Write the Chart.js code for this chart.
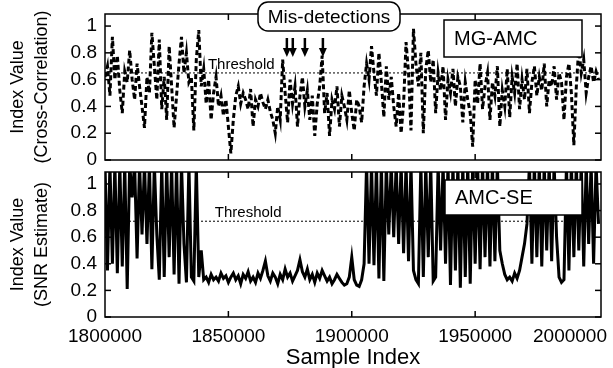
<!DOCTYPE html>
<html>
<head>
<meta charset="utf-8">
<script src="https://cdn.jsdelivr.net/npm/chart.js@4.4.0/dist/chart.umd.min.js"></script>
<style>
  html, body { margin: 0; padding: 0; background: #fff; }
  #wrap { position: relative; width: 613px; height: 368px; }
  .panel { position: absolute; left: 0; }
  #topChart { top: 0; }
  #bottomChart { top: 165px; }
</style>
</head>
<body>
<div id="wrap">
  <canvas id="topChart" class="panel" width="613" height="165"></canvas>
  <canvas id="bottomChart" class="panel" width="613" height="203"></canvas>
</div>
<script>
const FONT = '"Liberation Sans", Arial, Helvetica, sans-serif';

// sample axis
const sampleStart = 1800000;
const sampleStep = 1000;
const xMin = 1800000;
const xMax = 2001000;
const xTicks = [1800000, 1850000, 1900000, 1950000, 2000000];
const yTicks = [0, 0.2, 0.4, 0.6, 0.8, 1];

// MG-AMC index value (cross-correlation), one value per 1000 samples
const mgAmc = [
  0.62, 0.70, 0.48, 0.92, 0.60, 0.78, 0.52, 0.35, 0.66, 0.58,
  0.82, 0.60, 0.45, 0.72, 0.55, 0.40, 0.24, 0.62, 0.50, 0.95,
  0.70, 0.45, 0.90, 0.38, 0.62, 0.30, 0.85, 0.55, 0.24, 0.48,
  0.72, 0.92, 0.65, 0.80, 0.58, 0.62, 0.22, 0.75, 0.97, 0.55,
  0.68, 0.42, 0.60, 0.30, 0.50, 0.62, 0.40, 0.48, 0.33, 0.45,
  0.25, 0.05, 0.30, 0.48, 0.55, 0.42, 0.50, 0.45, 0.38, 0.53,
  0.25, 0.45, 0.40, 0.50, 0.43, 0.38, 0.45, 0.36, 0.30, 0.20,
  0.40, 0.30, 0.75, 0.50, 0.28, 0.60, 0.42, 0.55, 0.25, 0.48,
  0.62, 0.40, 0.52, 0.30, 0.48, 0.18, 0.42, 0.55, 0.78, 0.35,
  0.50, 0.18, 0.45, 0.38, 0.55, 0.25, 0.48, 0.40, 0.30, 0.52,
  0.35, 0.22, 0.45, 0.40, 0.28, 0.55, 0.72, 0.60, 0.85, 0.65,
  0.48, 0.80, 0.58, 0.32, 0.70, 0.45, 0.62, 0.40, 0.25, 0.50,
  0.20, 0.42, 0.88, 0.65, 0.22, 0.98, 0.72, 0.55, 0.80, 0.20,
  0.68, 0.82, 0.58, 0.75, 0.35, 0.65, 0.52, 0.70, 0.30, 0.60,
  0.50, 0.68, 0.40, 0.62, 0.55, 0.28, 0.58, 0.45, 0.35, 0.10,
  0.60, 0.42, 0.72, 0.38, 0.55, 0.65, 0.30, 0.58, 0.48, 0.70,
  0.25, 0.52, 0.40, 0.68, 0.32, 0.62, 0.50, 0.72, 0.38, 0.60,
  0.45, 0.68, 0.35, 0.58, 0.70, 0.48, 0.62, 0.52, 0.72, 0.40,
  0.60, 0.55, 0.70, 0.45, 0.65, 0.58, 0.30, 0.62, 0.72, 0.50,
  0.11, 0.55, 0.84, 0.65, 0.75, 0.50, 0.62, 0.70, 0.58, 0.66,
  0.60
];

// AMC-SE index value (SNR estimate), one value per 1000 samples (values above the frame are clipped)
const amcSe = [
  1.15, 0.35, 1.15, 0.40, 1.15, 0.33, 1.15, 0.38, 1.15, 0.21,
  1.15, 0.90, 1.15, 0.44, 1.15, 0.62, 1.15, 0.55, 1.15, 0.36,
  1.15, 0.62, 0.28, 1.15, 0.30, 1.15, 0.45, 1.15, 0.32, 1.15,
  0.25, 1.15, 0.55, 0.26, 1.15, 0.30, 0.27, 1.15, 0.30, 0.50,
  0.28, 0.30, 0.26, 0.32, 0.28, 0.30, 0.27, 0.33, 0.29, 0.31,
  0.26, 0.30, 0.33, 0.28, 0.31, 0.25, 0.32, 0.29, 0.34, 0.27,
  0.30, 0.26, 0.33, 0.29, 0.35, 0.42, 0.31, 0.27, 0.33, 0.30,
  0.25, 0.32, 0.28, 0.36, 0.30, 0.33, 0.27, 0.31, 0.35, 0.43,
  0.34, 0.30, 0.36, 0.28, 0.32, 0.26, 0.33, 0.29, 0.35, 0.31,
  0.27, 0.30, 0.25, 0.28, 0.32, 0.29, 0.26, 0.24, 0.25, 0.30,
  0.45, 0.28, 0.24, 0.23, 0.28, 0.40, 1.15, 0.40, 1.15, 0.39,
  1.15, 0.29, 1.15, 0.27, 1.15, 0.62, 1.15, 0.60, 1.15, 0.55,
  1.15, 0.48, 1.15, 0.42, 1.15, 0.35, 0.28, 0.25, 1.15, 0.30,
  1.15, 0.45, 1.15, 0.27, 0.30, 1.15, 0.50, 1.15, 0.40, 1.15,
  0.24, 1.15, 0.35, 1.15, 0.22, 1.15, 0.30, 1.15, 0.25, 1.15,
  0.40, 1.15, 0.36, 1.15, 0.45, 1.15, 0.38, 1.15, 0.42, 1.15,
  0.50, 0.40, 0.32, 0.28, 0.30, 0.27, 0.33, 0.29, 0.35, 0.45,
  0.55, 0.70, 1.15, 0.40, 1.15, 0.45, 1.15, 0.38, 1.15, 0.50,
  1.15, 0.42, 1.15, 0.60, 0.30, 0.26, 0.28, 1.15, 0.35, 1.15,
  0.45, 1.15, 0.50, 1.15, 0.38, 1.15, 0.55, 1.15, 0.40, 1.15,
  0.70
];

const mgThreshold = 0.65;
const seThreshold = 0.72;
// sample positions of the mis-detection arrows
const misArrows = [1873700, 1876100, 1881000, 1888300];

function toPoints(values) {
  return values.map((v, i) => ({ x: sampleStart + i * sampleStep, y: v }));
}

function line(ctx, x1, y1, x2, y2) {
  ctx.beginPath();
  ctx.moveTo(x1, y1);
  ctx.lineTo(x2, y2);
  ctx.stroke();
}

// frame, inward ticks, threshold, labels
const panelDecor = {
  id: 'panelDecor',
  afterDatasetsDraw(chart, args, o) {
    const { ctx, chartArea: a, scales: { x, y } } = chart;
    ctx.save();
    ctx.strokeStyle = '#000';
    ctx.fillStyle = '#000';

    // threshold line + label
    const ty = y.getPixelForValue(o.threshold);
    ctx.lineWidth = 1;
    ctx.setLineDash([2, 2]);
    line(ctx, a.left, ty, a.right, ty);
    ctx.setLineDash([]);
    ctx.font = '15px ' + FONT;
    ctx.textAlign = 'left';
    ctx.textBaseline = 'alphabetic';
    ctx.fillText('Threshold', x.getPixelForValue(o.thresholdAt), ty - 4);

    // frame
    ctx.lineWidth = 1.5;
    ctx.strokeRect(a.left, a.top, a.right - a.left, a.bottom - a.top);

    // inward tick marks
    yTicks.forEach(v => {
      const p = y.getPixelForValue(v);
      line(ctx, a.left, p, a.left + 6, p);
      line(ctx, a.right - 6, p, a.right, p);
    });
    xTicks.forEach(v => {
      const p = x.getPixelForValue(v);
      if (p <= a.left + 2 || p >= a.right - 4) return;
      line(ctx, p, a.bottom, p, a.bottom - 6);
      line(ctx, p, a.top, p, a.top + 6);
    });

    // name box
    const b = o.nameBox;
    ctx.fillStyle = '#fff';
    ctx.fillRect(b.x, b.y, b.w, b.h);
    ctx.lineWidth = 1.5;
    ctx.strokeRect(b.x, b.y, b.w, b.h);
    ctx.fillStyle = '#000';
    ctx.font = '20px ' + FONT;
    ctx.textBaseline = 'middle';
    ctx.fillText(b.text, b.x + 10, b.y + b.h / 2 + 1);

    // mis-detection callout
    if (o.callout) {
      const c = o.callout;
      ctx.fillStyle = '#fff';
      ctx.beginPath();
      ctx.roundRect(c.x, c.y, c.w, c.h, 10);
      ctx.fill();
      ctx.lineWidth = 1.5;
      ctx.stroke();
      ctx.fillStyle = '#000';
      ctx.font = '19px ' + FONT;
      ctx.textAlign = 'center';
      ctx.fillText(c.text, c.x + c.w / 2, c.y + c.h / 2 + 1);
      ctx.lineWidth = 2.5;
      misArrows.forEach(v => {
        const p = x.getPixelForValue(v);
        line(ctx, p, c.arrowTop, p, c.arrowTip - 8);
        ctx.beginPath();
        ctx.moveTo(p - 4, c.arrowTip - 9);
        ctx.lineTo(p + 4, c.arrowTip - 9);
        ctx.lineTo(p, c.arrowTip);
        ctx.closePath();
        ctx.fill();
      });
    }

    // x tick labels and axis title
    if (o.xLabels) {
      ctx.fillStyle = '#000';
      ctx.font = '19px ' + FONT;
      ctx.textBaseline = 'middle';
      xTicks.forEach(v => {
        const p = x.getPixelForValue(v);
        const w = ctx.measureText(String(v)).width;
        let left = p - w / 2;
        if (left + w > chart.width - 6) left = chart.width - 6 - w;
        ctx.textAlign = 'left';
        ctx.fillText(String(v), left, a.bottom + 20);
      });
      ctx.font = '22px ' + FONT;
      ctx.textAlign = 'center';
      ctx.fillText('Sample Index', (a.left + a.right) / 2, a.bottom + 41);
    }
    ctx.restore();
  }
};

function yScale(title) {
  return {
    min: 0,
    max: 1.09,
    afterBuildTicks: s => { s.ticks = yTicks.map(v => ({ value: v })); },
    afterFit: s => { s.width = 105; s.paddingTop = 0; s.paddingBottom = 0; },
    grid: { display: false, drawTicks: false },
    border: { display: false },
    ticks: {
      padding: 8,
      color: '#000',
      font: { family: FONT, size: 19 },
      callback: v => String(v)
    },
    title: {
      display: true,
      text: title,
      color: '#000',
      font: { family: FONT, size: 18, lineHeight: 1.333 },
      padding: { top: 6, bottom: 0 }
    }
  };
}

function xScale() {
  return { type: 'linear', min: xMin, max: xMax, display: false };
}

new Chart(document.getElementById('topChart'), {
  type: 'line',
  data: {
    datasets: [{
      data: toPoints(mgAmc),
      borderColor: '#000',
      borderWidth: 3,
      borderDash: [5, 3],
      pointRadius: 0,
      tension: 0,
      clip: 0
    }]
  },
  options: {
    responsive: false,
    animation: false,
    layout: { padding: { top: 14, right: 12, bottom: 5, left: 0 } },
    plugins: {
      legend: { display: false },
      tooltip: { enabled: false },
      panelDecor: {
        threshold: mgThreshold,
        thresholdAt: 1841700,
        nameBox: { x: 444, y: 20, w: 138, h: 37, text: 'MG-AMC' },
        callout: { x: 258, y: 2, w: 142, h: 29, text: 'Mis-detections', arrowTop: 38, arrowTip: 57 }
      }
    },
    scales: { x: xScale(), y: yScale(['Index Value', '(Cross-Correlation)']) }
  },
  plugins: [panelDecor]
});

new Chart(document.getElementById('bottomChart'), {
  type: 'line',
  data: {
    datasets: [{
      data: toPoints(amcSe),
      borderColor: '#000',
      borderWidth: 3,
      pointRadius: 0,
      tension: 0,
      clip: 0
    }]
  },
  options: {
    responsive: false,
    animation: false,
    layout: { padding: { top: 7, right: 12, bottom: 51, left: 0 } },
    plugins: {
      legend: { display: false },
      tooltip: { enabled: false },
      panelDecor: {
        threshold: seThreshold,
        thresholdAt: 1844500,
        nameBox: { x: 445, y: 15, w: 137, h: 35, text: 'AMC-SE' },
        xLabels: true
      }
    },
    scales: { x: xScale(), y: yScale(['Index Value', '(SNR Estimate)']) }
  },
  plugins: [panelDecor]
});
</script>
</body>
</html>
